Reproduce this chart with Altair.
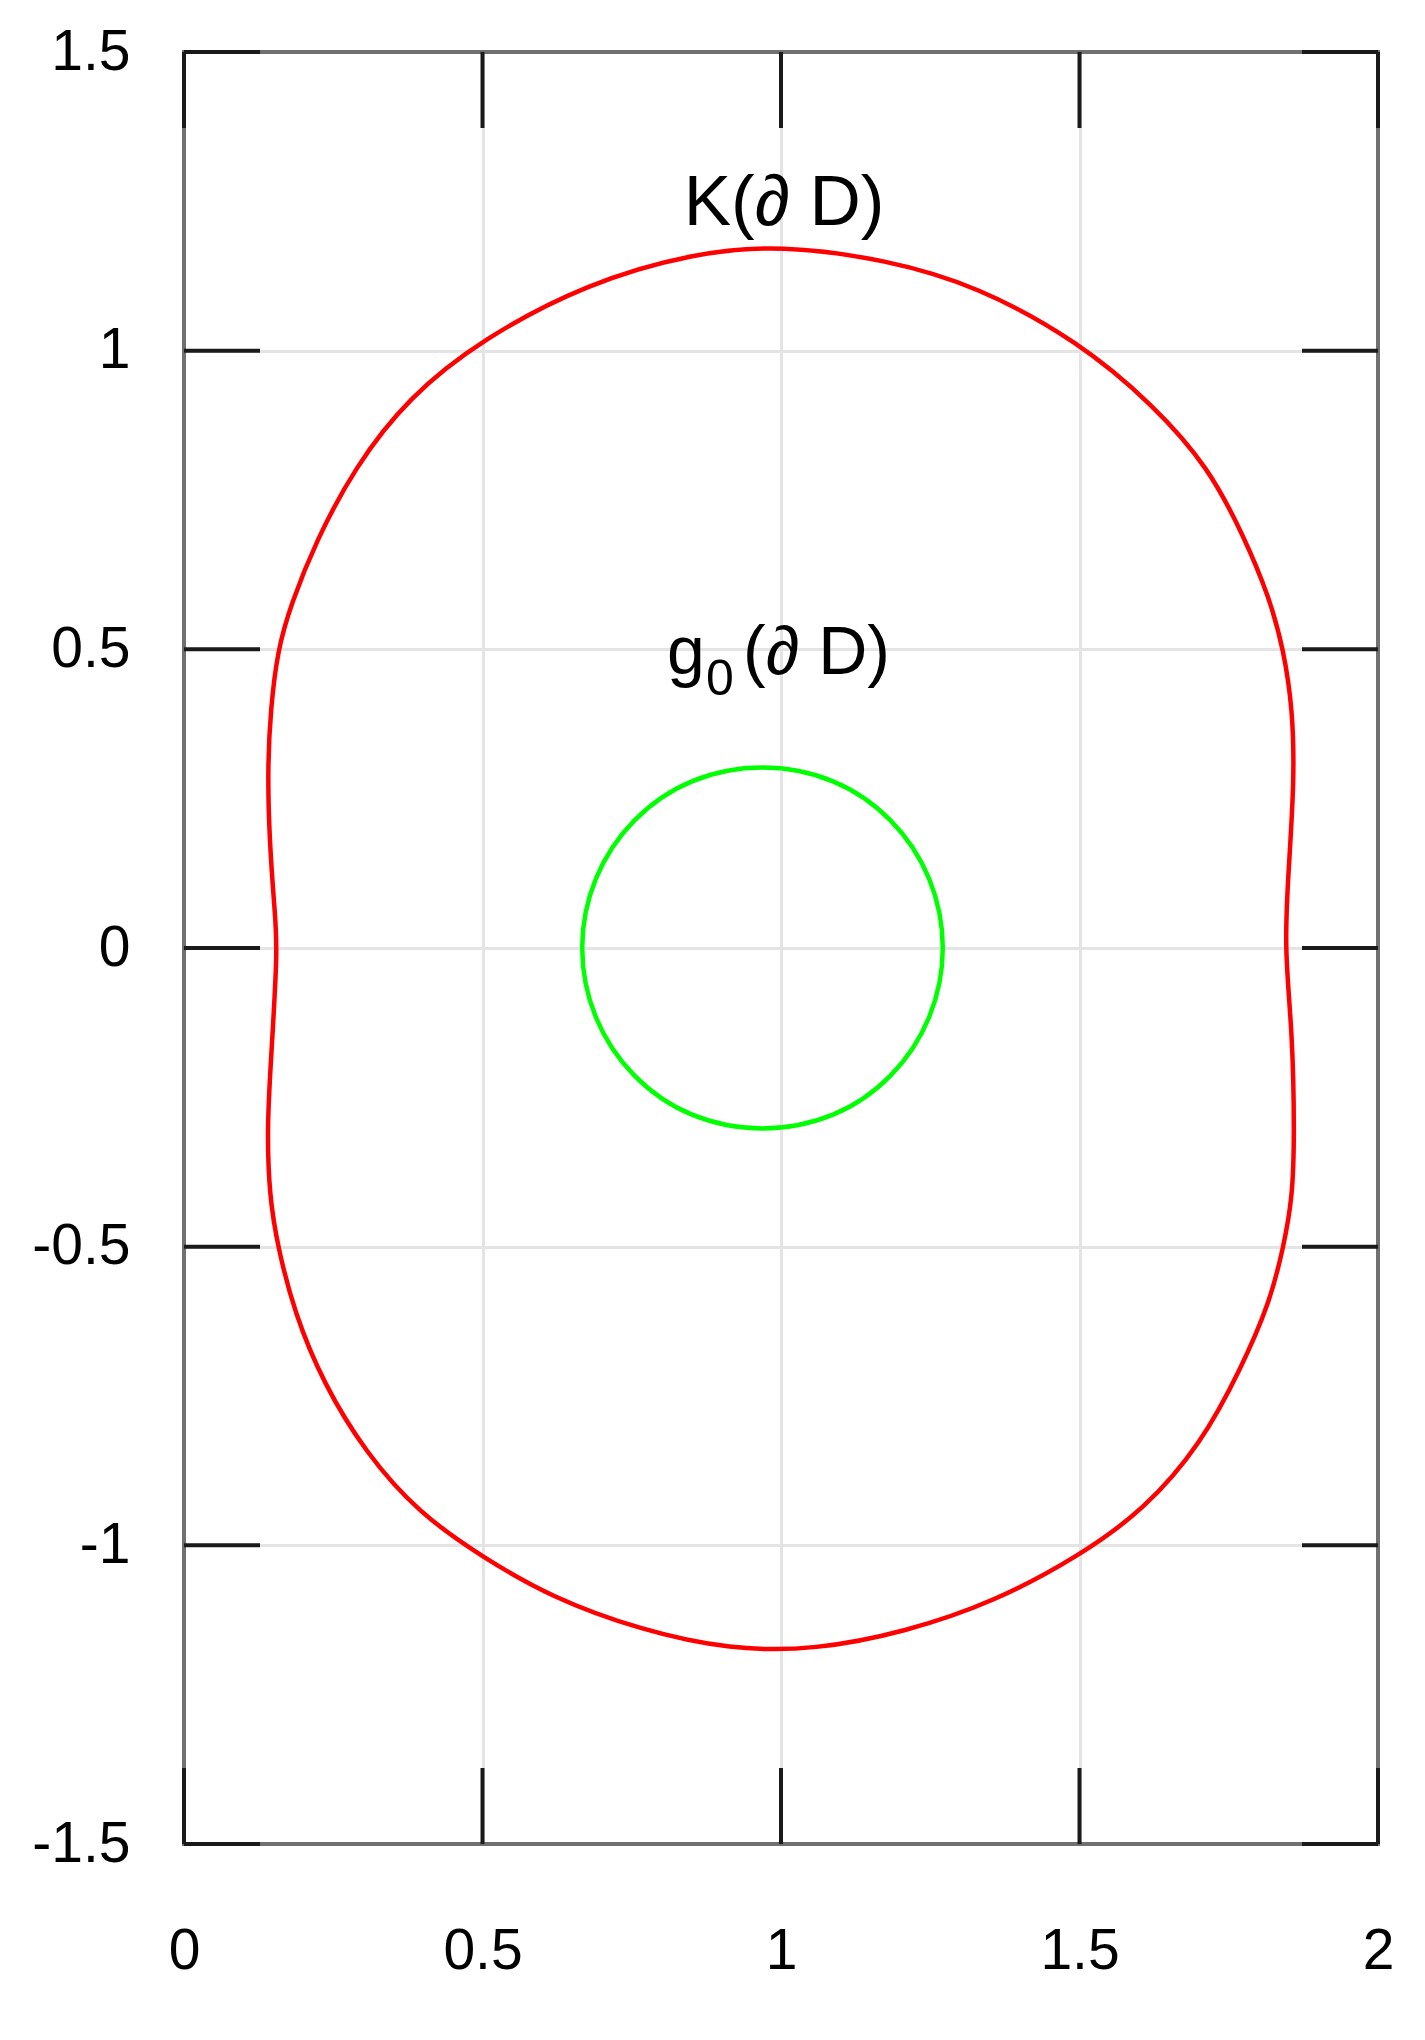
import altair as alt
import pandas as pd

# Outer curve K(∂D): points, counterclockwise from the top
k_x = [1.000, 0.855, 0.675, 0.500, 0.376, 0.286, 0.221, 0.179, 0.157, 0.145, 0.140, 0.143, 0.152, 0.157,
       0.146, 0.139, 0.143, 0.157, 0.185, 0.233, 0.304, 0.394, 0.502, 0.615, 0.765, 0.915,
       1.058, 1.208, 1.357, 1.501, 1.609, 1.704, 1.770, 1.818, 1.842, 1.857, 1.860, 1.857, 1.843,
       1.850, 1.860, 1.857, 1.842, 1.818, 1.776, 1.716, 1.626, 1.498, 1.327, 1.178]
k_y = [1.177, 1.164, 1.113, 1.020, 0.922, 0.805, 0.681, 0.575, 0.500, 0.400, 0.300, 0.181, 0.060, 0.000,
       -0.182, -0.300, -0.416, -0.500, -0.611, -0.728, -0.845, -0.947, -1.021, -1.087, -1.142, -1.175,
       -1.175, -1.145, -1.095, -1.017, -0.940, -0.830, -0.705, -0.596, -0.500, -0.416, -0.315, -0.143, 0.000,
       0.127, 0.283, 0.400, 0.499, 0.587, 0.688, 0.805, 0.907, 1.016, 1.109, 1.152]

# Inner curve g0(∂D): points, counterclockwise from the right
g_x = [1.271, 1.248, 1.183, 1.087, 0.969, 0.851, 0.755, 0.690, 0.667,
       0.690, 0.755, 0.851, 0.969, 1.087, 1.183, 1.248]
g_y = [0.000, 0.116, 0.214, 0.279, 0.302, 0.279, 0.214, 0.116, 0.000,
       -0.116, -0.214, -0.279, -0.302, -0.279, -0.214, -0.116]

x_ticks = [0, 0.5, 1, 1.5, 2]
y_ticks = [-1.5, -1, -0.5, 0, 0.5, 1, 1.5]

k_label = "K(∂ D)"
k_label_pos = (1.0, 1.21)
g_label_parts = ["g", "0", "(∂ D)"]
g_label_pos = (1.0, 0.458)

W, H = 1194, 1792
TICK = 76
FONT = "Liberation Sans"

k_df = pd.DataFrame({"x": k_x, "y": k_y, "i": list(range(len(k_x)))})
g_df = pd.DataFrame({"x": g_x, "y": g_y, "i": list(range(len(g_x)))})
xt_df = pd.DataFrame({"v": x_ticks})
yt_df = pd.DataFrame({"v": y_ticks})

xs = alt.Scale(domain=[0, 2], nice=False, zero=False)
ys = alt.Scale(domain=[-1.5, 1.5], nice=False, zero=False)

common_axis = dict(grid=True, gridColor="#e4e4e4", gridWidth=3, ticks=False, tickSize=0,
                   domain=False, labelFont=FONT, labelFontSize=57, labelColor="#000000",
                   title=None, labelExpr="'' + datum.value", labelFlush=False,
                   labelOverlap=False)
x_axis = alt.Axis(values=x_ticks, labelPadding=79, labelBaseline="top", **common_axis)
y_axis = alt.Axis(values=y_ticks, labelPadding=54, labelBaseline="middle", **common_axis)


def X(field):
    return alt.X(field, scale=xs, axis=x_axis)


def Y(field):
    return alt.Y(field, scale=ys, axis=y_axis)


red = alt.Chart(k_df).mark_line(color="#ff0000", strokeWidth=4.5, interpolate="basis-closed").encode(
    x=X("x:Q"), y=Y("y:Q"), order=alt.Order("i:Q"),
)
green = alt.Chart(g_df).mark_line(color="#00ff00", strokeWidth=4.5, interpolate="cardinal-closed").encode(
    x=X("x:Q"), y=Y("y:Q"), order=alt.Order("i:Q"),
)

# plot frame drawn above the grid
frame = alt.Chart(pd.DataFrame({"f": [0]})).mark_rect(filled=False, stroke="#707070", strokeWidth=4).encode(
    x=alt.value(0), x2=alt.value(W), y=alt.value(0), y2=alt.value(H))

tick_style = dict(color="#1a1a1a", strokeWidth=4)
bottom = alt.Chart(xt_df).mark_rule(**tick_style).encode(
    x=X("v:Q"), y=alt.value(H), y2=alt.value(H - TICK))
top = alt.Chart(xt_df).mark_rule(**tick_style).encode(
    x=X("v:Q"), y=alt.value(0), y2=alt.value(TICK))
left = alt.Chart(yt_df).mark_rule(**tick_style).encode(
    y=Y("v:Q"), x=alt.value(0), x2=alt.value(TICK))
right = alt.Chart(yt_df).mark_rule(**tick_style).encode(
    y=Y("v:Q"), x=alt.value(W), x2=alt.value(W - TICK))

k_df_lbl = pd.DataFrame({"x": [k_label_pos[0]], "y": [k_label_pos[1]], "t": [k_label]})
text_k = alt.Chart(k_df_lbl).mark_text(font=FONT, fontSize=71, align="center", baseline="alphabetic",
                                       color="#000000", dx=3).encode(
    x=X("x:Q"), y=Y("y:Q"), text="t:N")

g_rows = pd.DataFrame({"x": [g_label_pos[0]], "y": [g_label_pos[1]],
                       "a": [g_label_parts[0]], "b": [g_label_parts[1]], "c": [g_label_parts[2]]})
g1 = alt.Chart(g_rows).mark_text(font=FONT, fontSize=68, align="left", baseline="alphabetic",
                                 color="#000000", dx=-114).encode(
    x=X("x:Q"), y=Y("y:Q"), text="a:N")
g2 = alt.Chart(g_rows).mark_text(font=FONT, fontSize=50, align="left", baseline="alphabetic",
                                 color="#000000", dx=-75, dy=21).encode(
    x=X("x:Q"), y=Y("y:Q"), text="b:N")
g3 = alt.Chart(g_rows).mark_text(font=FONT, fontSize=68, align="left", baseline="alphabetic",
                                 color="#000000", dx=-38).encode(
    x=X("x:Q"), y=Y("y:Q"), text="c:N")

chart = alt.layer(red, green, frame, bottom, top, left, right, text_k, g1, g2, g3).properties(
    width=W, height=H,
    padding={"left": 176, "top": 44, "right": 39, "bottom": 180},
    autosize=alt.AutoSizeParams(type="none"),
    background="white",
).configure_view(stroke=None)

chart.save("out.html", embed_options={"renderer": "svg", "actions": False})
